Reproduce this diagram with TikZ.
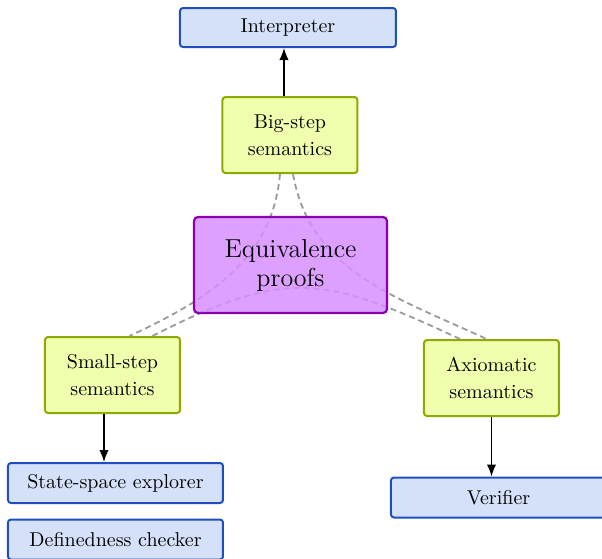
\documentclass[tikz,border=0pt]{standalone}
\usetikzlibrary{arrows.meta,backgrounds}
\definecolor{bfill}{HTML}{D5E1F8}
\definecolor{bline}{HTML}{1F4FBF}
\definecolor{gfill}{HTML}{EFFFAD}
\definecolor{gline}{HTML}{8CAA00}
\definecolor{pfill}{HTML}{D78FFF}
\definecolor{pline}{HTML}{8A00AA}
\definecolor{dgray}{HTML}{9A9A9A}
\tikzset{
  toolbox/.style={draw=bline, fill=bfill, line width=1pt, rounded corners=1.5pt,
    minimum width=107.5pt, minimum height=20pt, inner sep=0pt,
    font=\fontsize{10}{12}\selectfont},
  sembox/.style={draw=gline, fill=gfill, line width=1pt, rounded corners=1.5pt,
    minimum width=67.5pt, minimum height=38pt, inner sep=0pt, align=center,
    font=\fontsize{10}{13.5}\selectfont},
  eqbox/.style={draw=pline, fill=pfill, fill opacity=0.85, text opacity=1,
    line width=1.1pt, rounded corners=2pt,
    minimum width=96.5pt, minimum height=48pt, inner sep=0pt, align=center,
    font=\fontsize{13}{14.5}\selectfont},
  link/.style={dgray, dashed, dash pattern=on 3pt off 2pt, line width=0.9pt},
  arr/.style={-{Latex[length=6pt,width=4.6pt]}, line width=0.6pt, black},
}
\begin{document}
\begin{tikzpicture}[x=0.5pt, y=0.5pt]
\useasboundingbox (0,0) rectangle (602,-559);
\node[toolbox, minimum width=108pt, minimum height=19.5pt] (interp) at (288,-27.5) {Interpreter};
\node[sembox] (big) at (290,-135) {Big-step\\semantics};
\node[eqbox] (eq) at (290.5,-265) {Equivalence\\proofs};
\node[sembox] (small) at (112.5,-375) {Small-step\\semantics};
\node[sembox] (axio) at (491.5,-378) {Axiomatic\\semantics};
\node[toolbox] (explorer) at (115.5,-483) {State-space explorer};
\node[toolbox] (defined) at (115.5,-539.5) {Definedness checker};
\node[toolbox] (verifier) at (498.5,-497.5) {Verifier};
\begin{scope}[on background layer]
\draw[link] ([xshift=-5pt]big.south) to[out=-95, in=25] ([xshift=8.5pt]small.north);
\draw[link] ([xshift=1.5pt]big.south) to[out=-80, in=155] ([xshift=-2.5pt]axio.north);
\draw[link] ([xshift=20pt]small.north) to[out=27, in=155, looseness=1.25] ([xshift=-15.75pt]axio.north);
\end{scope}
\draw[arr] ([xshift=-3pt]big.north) -- ([xshift=-3pt]big.north |- interp.south);
\draw[arr] ([xshift=-4.25pt]small.south) -- ([xshift=-4.25pt]small.south |- explorer.north);
\draw[arr] (axio.south) -- (axio.south |- verifier.north);
\end{tikzpicture}
\end{document}
